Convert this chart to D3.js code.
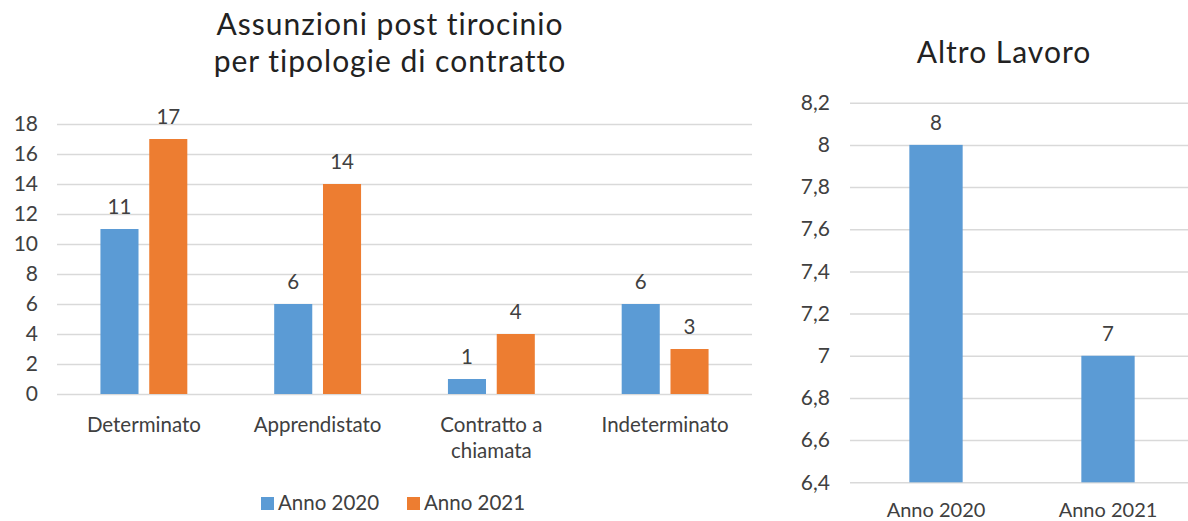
<!DOCTYPE html>
<html>
<head>
<meta charset="utf-8">
<script src="https://cdn.jsdelivr.net/npm/d3@7"></script>
<style>
  html, body { margin: 0; padding: 0; background: #fff; }
  svg { display: block; font-family: Lato, "Open Sans", sans-serif; }
</style>
</head>
<body>
<svg id="chart" width="1188" height="521"></svg>
<script>
// Assunzioni post tirocinio per tipologia di contratto
const categories = ["Determinato", "Apprendistato", "Contratto a\nchiamata", "Indeterminato"];
const seriesNames = ["Anno 2020", "Anno 2021"];
const values2020 = [11, 6, 1, 6];
const values2021 = [17, 14, 4, 3];
const leftTicks = [0, 2, 4, 6, 8, 10, 12, 14, 16, 18];

// Altro lavoro
const otherCategories = ["Anno 2020", "Anno 2021"];
const otherValues = [8, 7];
const rightTicks = [6.4, 6.6, 6.8, 7, 7.2, 7.4, 7.6, 7.8, 8, 8.2];

const colors = ["#5b9bd5", "#ed7d31"];
const gridColor = "#d9d9d9";
const textColor = "#404040";
const labelSize = "20.5px";
const titleSize = "30px";

const svg = d3.select("#chart");
const fmt = v => String(v).replace(".", ",");

// ---------- left chart ----------
const L = { x0: 57, x1: 752, yTop: 124, yBottom: 394 };
const yL = d3.scaleLinear().domain([0, 18]).range([L.yBottom, L.yTop]);
const xL = d3.scaleBand().domain(categories).range([L.x0, L.x1]).paddingInner(0.5).paddingOuter(0.25);
const xSub = d3.scaleBand().domain(seriesNames).range([0, xL.bandwidth()]).paddingInner(0.22);

const left = svg.append("g");

left.append("g")
  .attr("transform", `translate(${L.x0},0)`)
  .call(d3.axisLeft(yL).tickValues(leftTicks).tickSize(-(L.x1 - L.x0)).tickPadding(19))
  .call(g => g.select(".domain").remove())
  .call(g => g.selectAll(".tick line").attr("stroke", gridColor).attr("stroke-width", 1.5))
  .call(g => g.selectAll(".tick text").attr("fill", textColor).style("font-size", "21px").style("font-family", "Lato, sans-serif"));

const rows = categories.map((c, i) => ({ cat: c, vals: [values2020[i], values2021[i]] }));
const groups = left.selectAll("g.grp").data(rows).join("g")
  .attr("class", "grp")
  .attr("transform", d => `translate(${xL(d.cat)},0)`);

groups.selectAll("rect").data(d => d.vals.map((v, j) => ({ s: seriesNames[j], v, j })))
  .join("rect")
  .attr("x", d => xSub(d.s))
  .attr("width", xSub.bandwidth())
  .attr("y", d => yL(d.v))
  .attr("height", d => yL(0) - yL(d.v))
  .attr("fill", d => colors[d.j]);

groups.selectAll("text.val").data(d => d.vals.map((v, j) => ({ s: seriesNames[j], v, j })))
  .join("text")
  .attr("class", "val")
  .attr("x", d => xSub(d.s) + xSub.bandwidth() / 2)
  .attr("y", d => yL(d.v) - 15)
  .attr("text-anchor", "middle")
  .attr("fill", textColor)
  .style("font-size", labelSize)
  .text(d => fmt(d.v));

// category labels (may wrap on two lines)
left.selectAll("text.cat").data(categories).join("text")
  .attr("class", "cat")
  .attr("x", d => xL(d) + xL.bandwidth() / 2)
  .attr("y", 432)
  .attr("text-anchor", "middle")
  .attr("fill", textColor)
  .style("font-size", labelSize)
  .each(function (d) {
    const t = d3.select(this);
    d.split("\n").forEach((line, k) => {
      t.append("tspan").attr("x", xL(d) + xL.bandwidth() / 2).attr("dy", k === 0 ? 0 : 26).text(line);
    });
  });

// title, two separate lines
const titleLines = ["Assunzioni post tirocinio", "per tipologie di contratto"];
svg.selectAll("text.title").data(titleLines).join("text")
  .attr("class", "title")
  .attr("x", 390)
  .attr("y", (d, i) => 35 + i * 37)
  .attr("text-anchor", "middle")
  .attr("fill", "#222")
  .style("font-size", titleSize)
  .style("letter-spacing", "1px")
  .text(d => d);

// legend
const legend = svg.append("g").attr("transform", "translate(261,0)");
const legItems = legend.selectAll("g").data(seriesNames).join("g")
  .attr("transform", (d, i) => `translate(${i * 146},0)`);
legItems.append("rect").attr("x", 0).attr("y", 497).attr("width", 13).attr("height", 13)
  .attr("fill", (d, i) => colors[i]);
legItems.append("text").attr("x", 17).attr("y", 510)
  .attr("fill", textColor).style("font-size", labelSize).text(d => d);

// ---------- right chart ----------
const R = { x0: 850, x1: 1194, yTop: 102.7, yBottom: 482.3 };
const yR = d3.scaleLinear().domain([6.4, 8.2]).range([R.yBottom, R.yTop]);
const xR = d3.scaleBand().domain(otherCategories).range([R.x0, R.x1]).paddingInner(0.69).paddingOuter(0.345);

const right = svg.append("g");
right.append("g")
  .attr("transform", `translate(${R.x0},0)`)
  .call(d3.axisLeft(yR).tickValues(rightTicks).tickFormat(fmt).tickSize(-(R.x1 - R.x0)).tickPadding(20))
  .call(g => g.select(".domain").remove())
  .call(g => g.selectAll(".tick line").attr("stroke", gridColor).attr("stroke-width", 1.5))
  .call(g => g.selectAll(".tick text").attr("fill", textColor).style("font-size", "21px").style("font-family", "Lato, sans-serif"));

right.selectAll("rect.bar").data(otherValues).join("rect")
  .attr("class", "bar")
  .attr("x", (d, i) => xR(otherCategories[i]))
  .attr("width", xR.bandwidth())
  .attr("y", d => yR(d))
  .attr("height", d => yR(6.4) - yR(d))
  .attr("fill", colors[0]);

right.selectAll("text.val").data(otherValues).join("text")
  .attr("class", "val")
  .attr("x", (d, i) => xR(otherCategories[i]) + xR.bandwidth() / 2)
  .attr("y", d => yR(d) - 15)
  .attr("text-anchor", "middle")
  .attr("fill", textColor)
  .style("font-size", labelSize)
  .text(d => fmt(d));

right.selectAll("text.cat").data(otherCategories).join("text")
  .attr("class", "cat")
  .attr("x", d => xR(d) + xR.bandwidth() / 2)
  .attr("y", 517)
  .attr("text-anchor", "middle")
  .attr("fill", textColor)
  .style("font-size", "20px")
  .text(d => d);

svg.append("text")
  .attr("x", 1004).attr("y", 63)
  .attr("text-anchor", "middle")
  .attr("fill", "#222")
  .style("font-size", titleSize)
  .style("letter-spacing", "1px")
  .text("Altro Lavoro");
</script>
</body>
</html>
